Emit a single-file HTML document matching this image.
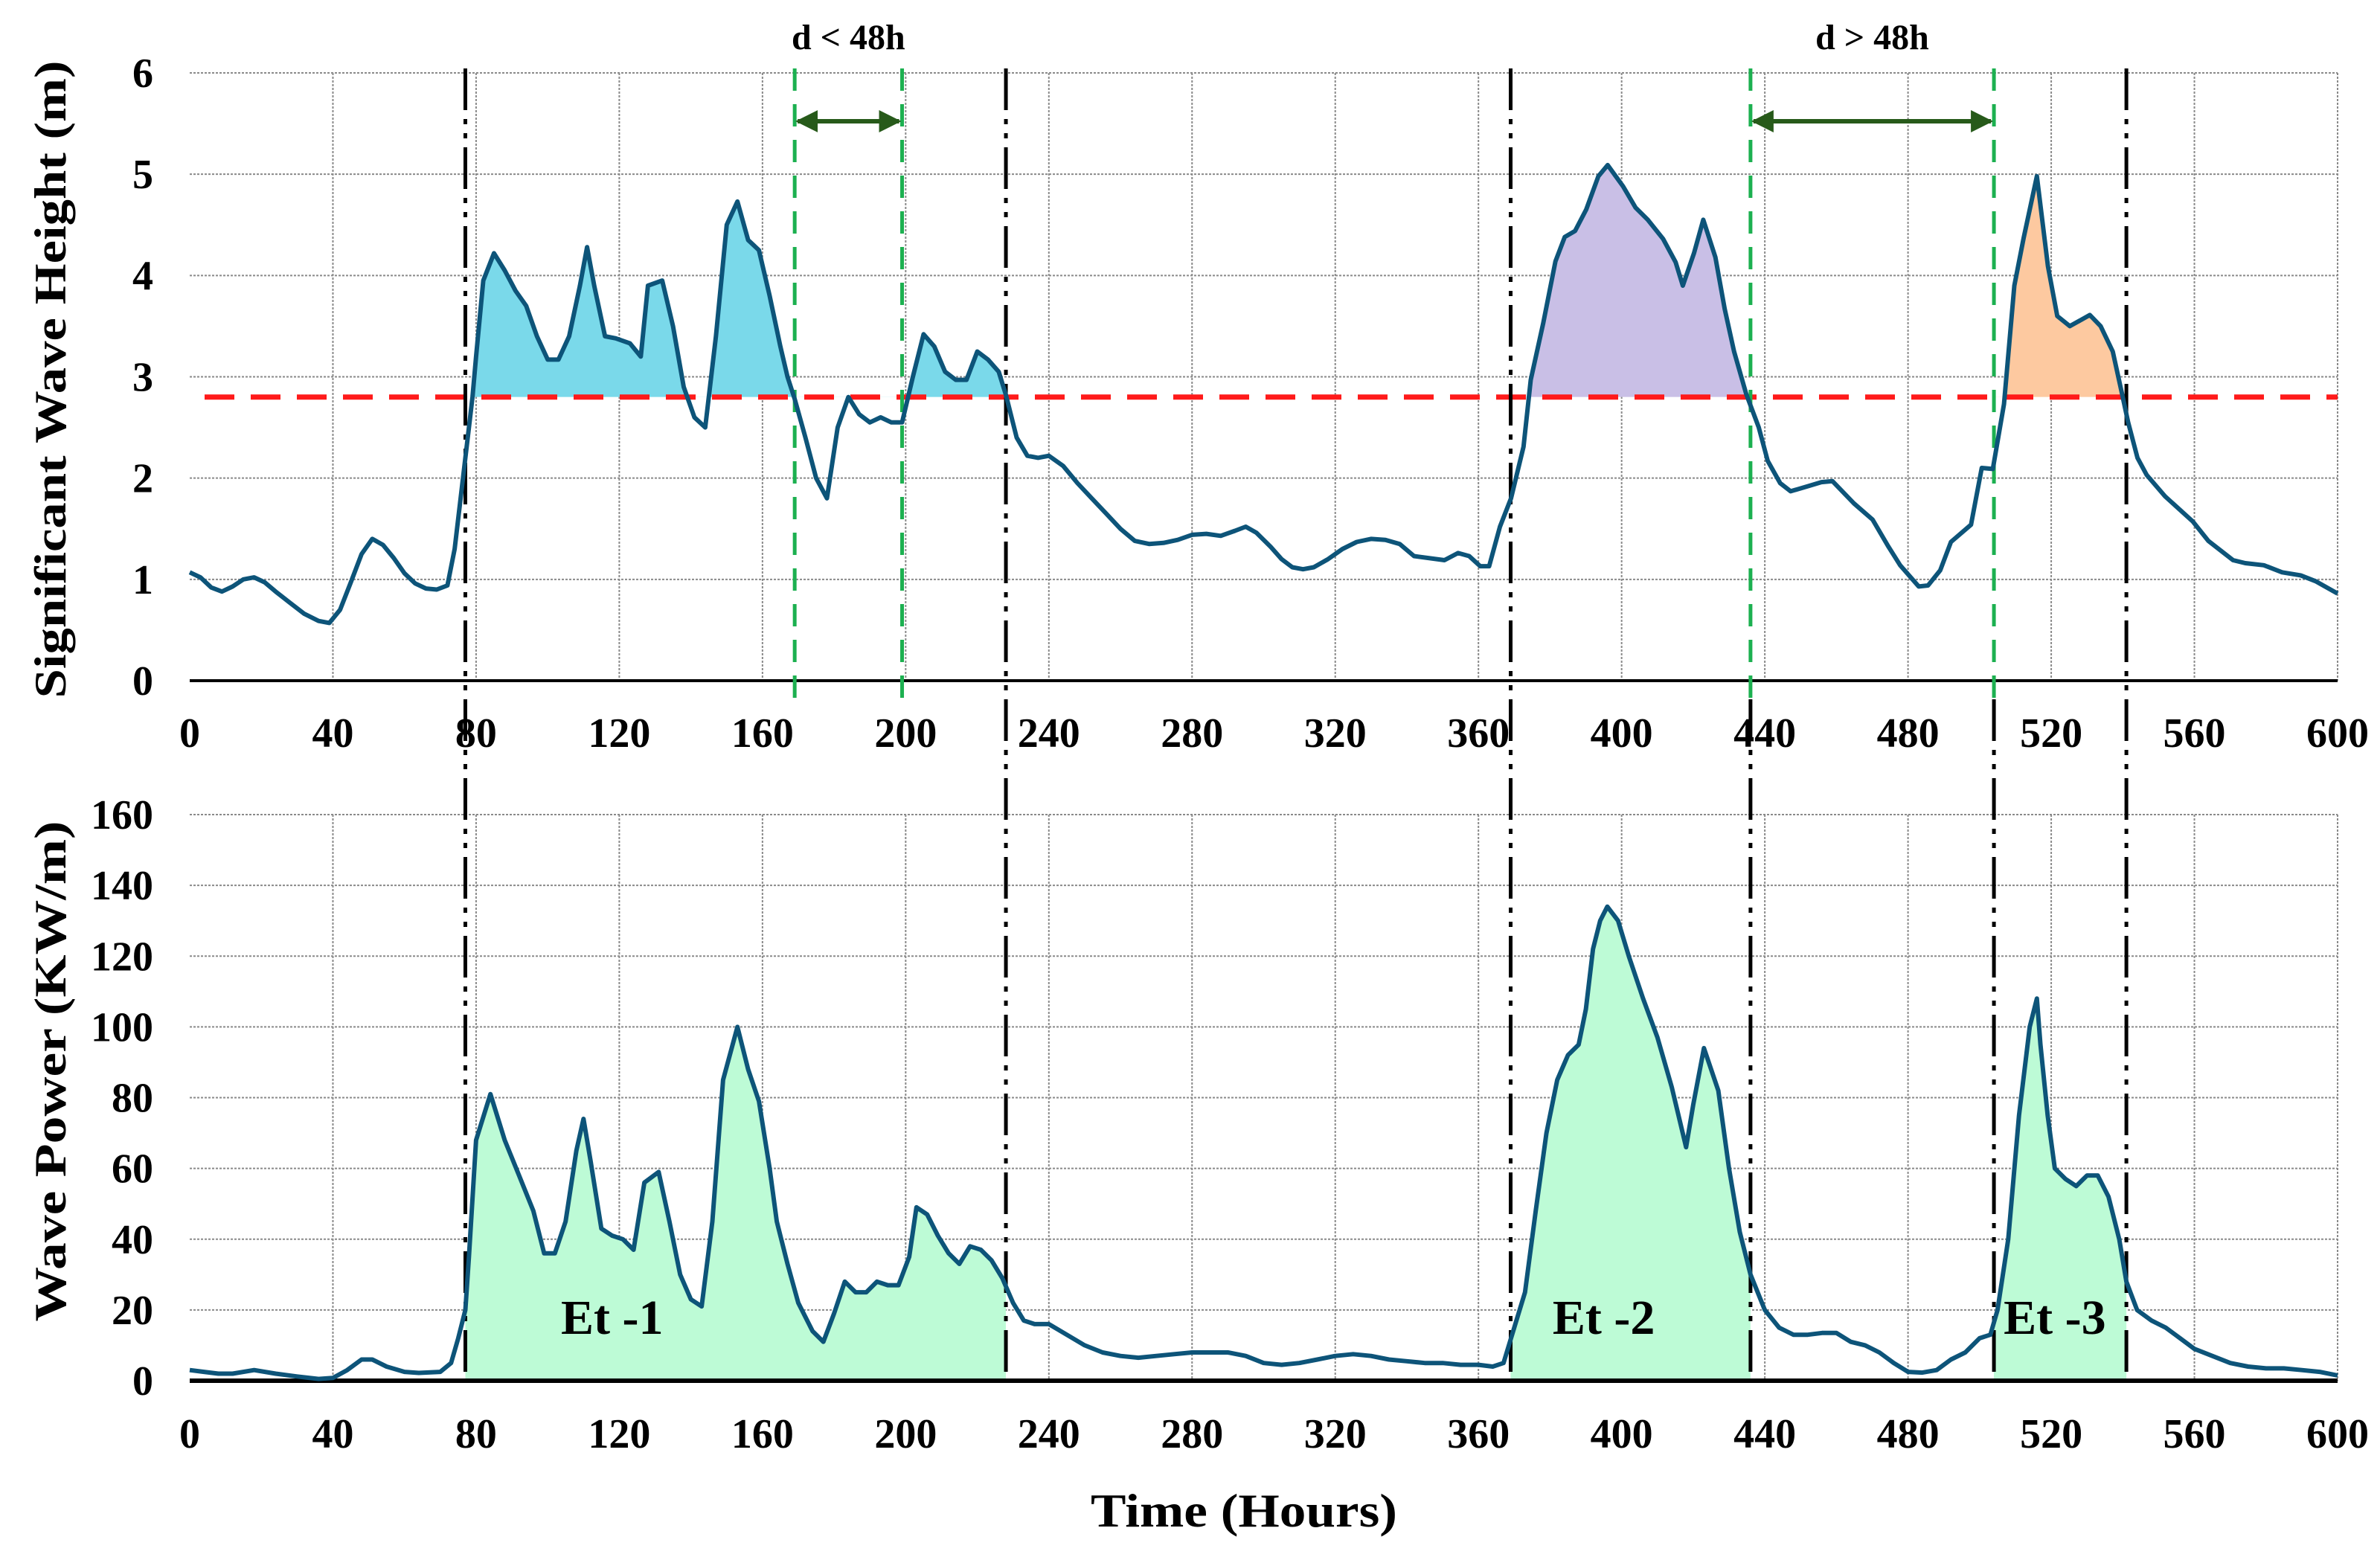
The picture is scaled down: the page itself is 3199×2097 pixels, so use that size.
<!DOCTYPE html>
<html><head><meta charset="utf-8"><style>
html,body{margin:0;padding:0;background:#fff;}
svg text{font-family:"Liberation Serif",serif;font-weight:bold;fill:#000;}
</style></head><body>
<svg id="chart" width="3199" height="2092" viewBox="0 0 3199 2092" xmlns="http://www.w3.org/2000/svg"></svg>
<script>
const hsHours=[0,3,6,9,12,15,18,21,24,28,
32,36,39,42,45,48,51,54,57,60,
63,66,69,72,74,76,78,79,80,82,
85,88,91,94,97,100,103,106,109,111,
113,116,119,123,126,128,132,135,138,141,
144,147,150,153,156,159,162,165,167,169,
172,175,178,181,184,187,190,193,196,199,
202,205,208,211,214,217,220,223,226,228,
231,234,237,240,244,248,252,256,260,264,
268,272,276,280,284,288,292,295,298,302,
305,308,311,314,318,322,326,330,334,338,
342,350.5,354.3,357.4,360.5,363,366,369.1,372.6,374.6,
378.1,381.5,384.1,387,390.1,393.5,396.1,400.4,403.9,407.3,
411.6,415.1,417.1,420.2,422.8,426.2,428.8,431.4,434.8,438.3,
440.8,444.3,447.2,452,455.8,458.9,464.9,470.1,474.4,477.8,
483,485.6,489,492,497.6,500.6,503.7,506.8,509.7,512.3,
516,519.1,521.7,525.2,530.8,533.8,537.2,539.8,541.5,544.1,
546.7,551.8,559.6,563.9,570.8,574.2,579.4,584.5,589.7,594,
600];
const hsValues=[1.07,1.02,0.92,0.88,0.93,1.0,1.02,0.97,0.88,0.77,
0.66,0.59,0.57,0.7,0.97,1.25,1.4,1.34,1.21,1.06,
0.96,0.91,0.9,0.94,1.3,1.9,2.5,2.8,3.2,3.95,
4.22,4.05,3.85,3.7,3.4,3.17,3.17,3.4,3.9,4.28,
3.9,3.4,3.38,3.33,3.2,3.9,3.95,3.5,2.9,2.6,
2.5,3.4,4.5,4.73,4.35,4.25,3.8,3.3,3.0,2.78,
2.4,2.0,1.8,2.5,2.8,2.63,2.55,2.6,2.55,2.55,
3.0,3.42,3.3,3.05,2.97,2.97,3.25,3.17,3.05,2.82,
2.4,2.22,2.2,2.22,2.12,1.95,1.8,1.65,1.5,1.38,
1.35,1.36,1.39,1.44,1.45,1.43,1.48,1.52,1.46,1.32,
1.2,1.12,1.1,1.12,1.2,1.3,1.37,1.4,1.39,1.35,
1.23,1.19,1.26,1.23,1.13,1.13,1.52,1.8,2.31,2.97,
3.53,4.14,4.38,4.44,4.65,4.98,5.09,4.88,4.67,4.55,
4.36,4.13,3.9,4.22,4.55,4.18,3.67,3.25,2.83,2.5,
2.17,1.95,1.87,1.92,1.96,1.97,1.75,1.59,1.33,1.14,
0.93,0.94,1.09,1.37,1.54,2.1,2.09,2.73,3.9,4.37,
4.98,4.09,3.6,3.5,3.61,3.5,3.25,2.83,2.55,2.2,
2.03,1.82,1.57,1.38,1.19,1.16,1.14,1.07,1.04,0.98,
0.86];
const pwHours=[0,4,8,12,18,24,30,36,40,44,
48,51,55,60,64,70,73,75,77,78,
80,84,88,92,96,99,102,105,108,110,
112,115,118,121,124,127,131,134,137,140,
143,146,149,153,156,159,162,164,167,170,
174,177,180,183,186,189,192,195,198,201,
203,206,209,212,215,218,221,224,227,230,
233,236,240,245,250,255,260,265,270,275,
280,285,290,295,300,305,310,315,320,325,
330,335,340,345,350,355,360,364,367,370,
373,376,379,382,385,388,390,392,394,396,
399,402,406,410,414,418,420,423,427,430,
433,436,440,444,448,452,456,460,464,468,
472,476,480,484,488,492,496,500,503,505,
508,511,514,516,517,519,521,524,527,530,
533,536,539,541,544,548,552,556,560,565,
570,575,580,585,590,595,600];
const pwValues=[3,2.5,2,2,3,2,1.2,0.5,0.8,3,
6,6,4,2.5,2.2,2.5,5,12,20,35,
68,81,68,58,48,36,36,45,65,74,
62,43,41,40,37,56,59,45,30,23,
21,45,85,100,88,79,60,45,33,22,
14,11,19,28,25,25,28,27,27,35,
49,47,41,36,33,38,37,34,29,22,
17,16,16,13,10,8,7,6.5,7,7.5,
8,8,8,7,5,4.5,5,6,7,7.5,
7,6,5.5,5,5,4.5,4.5,4,5,15,
25,48,70,85,92,95,105,122,130,134,
130,120,108,97,83,66,78,94,82,60,
42,30,20,15,13,13,13.5,13.5,11,10,
8,5,2.5,2.3,3,6,8,12,13,20,
40,75,100,108,95,75,60,57,55,58,
58,52,40,28,20,17,15,12,9,7,
5,4,3.5,3.5,3,2.5,1.5];
const xTicks=[0,40,80,120,160,200,240,280,320,360,400,440,480,520,560,600];
const hsTicks=[0,1,2,3,4,5,6];
const pwTicks=[0,20,40,60,80,100,120,140,160];
const threshold=2.8;
const eventStarts=[77,369,504];
const eventEnds=[228,436,541];
const topEventFills=["#7ad9ea","#c9bfe6","#fdc9a0"];
const eventLabels=["Et -1","Et -2","Et -3"];
const labelHours=[118,395,521];
const blackLinesFull=[77,228,369,541];
const blackLinesBottom=[436,504];
const greenLines=[169,199,436,504];
const gaps=[[169,199,"d < 48h"],[436,504,"d > 48h"]];

const X0=255,X1=3142;
const X=h=>X0+h*(X1-X0)/600;
const TY0=915,TY1=98; const YT=v=>TY0-v*(TY0-TY1)/6;
const BY0=1856,BY1=1095; const YB=v=>BY0-v*(BY0-BY1)/160;
const NS="http://www.w3.org/2000/svg";
const svg=document.getElementById('chart');
function mk(tag,attrs,parent){const e=document.createElementNS(NS,tag);for(const k in attrs)e.setAttribute(k,attrs[k]);(parent||svg).appendChild(e);return e;}

const defs=mk('defs',{});
const mrk=mk('marker',{id:'ah',viewBox:'0 0 10 10',refX:'9',refY:'5',markerWidth:'5',markerHeight:'5',orient:'auto-start-reverse'},defs);
mk('path',{d:'M0,0 L10,5 L0,10 z',fill:'#275a1a'},mrk);

function grid(Y,ticks,y0,y1,name){
  const g=mk('g',{});
  
  
  ticks.forEach(t=>{ if(t===0)return;
    const l=mk('line',{x1:X0,x2:X1,y1:Y(t),y2:Y(t),stroke:'#8a8a8a','stroke-width':2,'stroke-dasharray':'3 2'},g);
    });
  xTicks.forEach(t=>{ if(t===0)return;
    const l=mk('line',{x1:X(t),x2:X(t),y1:y1,y2:y0,stroke:'#8a8a8a','stroke-width':2,'stroke-dasharray':'3 2'},g);
    });
}
grid(YT,hsTicks,TY0,TY1,'top-grid');
grid(YB,pwTicks,BY0,BY1,'bottom-grid');

function ptsStr(hrs,vals,Y){return hrs.map((h,i)=>X(h).toFixed(1)+','+Y(vals[i]).toFixed(1)).join(' ');}

eventStarts.forEach((s,i)=>{
  const cid='ct'+i;
  const cp=mk('clipPath',{id:cid},defs);
  mk('rect',{x:X(s),y:0,width:X(eventEnds[i])-X(s),height:YT(threshold)},cp);
  let p='M'+X(0)+','+YT(threshold)+' L'+ptsStr(hsHours,hsValues,YT).split(' ').join(' L')+' L'+X(600)+','+YT(threshold)+' Z';
  const f=mk('path',{d:p,fill:topEventFills[i],'clip-path':'url(#'+cid+')'});
  
  
});
eventStarts.forEach((s,i)=>{
  const cid='cb'+i;
  const cp=mk('clipPath',{id:cid},defs);
  mk('rect',{x:X(s),y:0,width:X(eventEnds[i])-X(s),height:BY0},cp);
  let p='M'+X(0)+','+BY0+' L'+ptsStr(pwHours,pwValues,YB).split(' ').join(' L')+' L'+X(600)+','+BY0+' Z';
  const f=mk('path',{d:p,fill:'#bdfbd6','clip-path':'url(#'+cid+')'});
  
  
});

const a1=mk('line',{x1:X0,x2:X1,y1:TY0,y2:TY0,stroke:'#000','stroke-width':4});

const a2=mk('line',{x1:X0,x2:X1,y1:BY0,y2:BY0,stroke:'#000','stroke-width':6});


const th=mk('line',{x1:275,x2:X1,y1:YT(threshold),y2:YT(threshold),stroke:'#ff1a1a','stroke-width':7,'stroke-dasharray':'40 22'});


const dd='56 12 7 12 7 12';
blackLinesFull.forEach(h=>{const l=mk('line',{x1:X(h),x2:X(h),y1:92,y2:BY0,stroke:'#000','stroke-width':5,'stroke-dasharray':dd});
  });
blackLinesBottom.forEach(h=>{const l=mk('line',{x1:X(h),x2:X(h),y1:940,y2:BY0,stroke:'#000','stroke-width':5,'stroke-dasharray':dd});
  });
greenLines.forEach(h=>{const l=mk('line',{x1:X(h),x2:X(h),y1:92,y2:940,stroke:'#1cb050','stroke-width':5,'stroke-dasharray':'30 18'});
  });

gaps.forEach(g=>{
  const a=mk('line',{x1:X(g[0])+4,x2:X(g[1])-4,y1:163,y2:163,stroke:'#275a1a','stroke-width':6,'marker-start':'url(#ah)','marker-end':'url(#ah)'});
  
  const t=mk('text',{x:(X(g[0])+X(g[1]))/2,y:66,'font-size':48,'text-anchor':'middle'});
  t.textContent=g[2];
  
});

const l1=mk('polyline',{points:ptsStr(hsHours,hsValues,YT),fill:'none',stroke:'#0d5479','stroke-width':6,'stroke-linejoin':'round'});

const l2=mk('polyline',{points:ptsStr(pwHours,pwValues,YB),fill:'none',stroke:'#0d5479','stroke-width':6,'stroke-linejoin':'round'});


xTicks.forEach(t=>{
  const a=mk('text',{x:X(t),y:1004,'font-size':56,'text-anchor':'middle'});a.textContent=t;
  
  const b=mk('text',{x:X(t),y:1946,'font-size':56,'text-anchor':'middle'});b.textContent=t;
  
});
hsTicks.forEach(t=>{const a=mk('text',{x:206,y:YT(t)+19,'font-size':56,'text-anchor':'end'});a.textContent=t;
  });
pwTicks.forEach(t=>{const a=mk('text',{x:206,y:YB(t)+19,'font-size':56,'text-anchor':'end'});a.textContent=t;
  });

eventLabels.forEach((s,i)=>{const t=mk('text',{x:X(labelHours[i]),y:1793,'font-size':66,'text-anchor':'middle'});t.textContent=s;
  });

const yt1=mk('text',{x:0,y:0,'font-size':60,'text-anchor':'middle',transform:'translate(88,510) rotate(-90)',textLength:857,lengthAdjust:'spacingAndGlyphs'});
yt1.textContent='Significant Wave Height (m)';

const yt2=mk('text',{x:0,y:0,'font-size':60,'text-anchor':'middle',transform:'translate(88,1440) rotate(-90)',textLength:673,lengthAdjust:'spacingAndGlyphs'});
yt2.textContent='Wave Power (KW/m)';

const xt=mk('text',{x:1672,y:2052,'font-size':64,'text-anchor':'middle',textLength:412,lengthAdjust:'spacingAndGlyphs'});
xt.textContent='Time (Hours)';

</script>
</body></html>
